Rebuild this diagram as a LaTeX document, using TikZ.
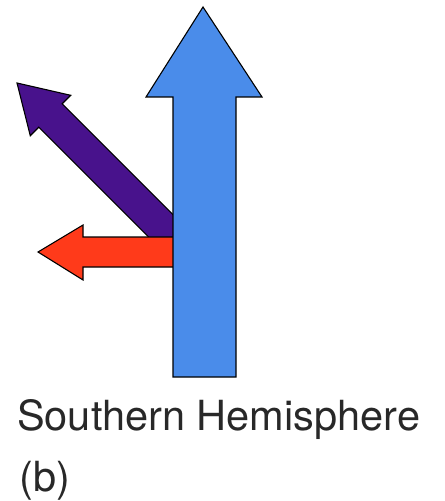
\documentclass[tikz,border=0pt]{standalone}
\usepackage{fontspec}
\setmainfont{TeX Gyre Heros}
\definecolor{bluearrow}{RGB}{74,140,234}
\definecolor{purplearrow}{RGB}{72,18,140}
\definecolor{redarrow}{RGB}{255,58,26}
\definecolor{labeltext}{RGB}{40,40,40}
\begin{document}
\begin{tikzpicture}[x=1bp,y=-1bp,
  arrowshape/.style={draw=black,line width=1.1bp,line join=miter},
  labelstyle/.style={anchor=base west,inner sep=0pt,text=labeltext,
    font=\fontsize{41.5bp}{50bp}\selectfont}]
\useasboundingbox (0,0) rectangle (445,501);
% purple arrow (drawn first, partly hidden)
\filldraw[arrowshape,fill=purplearrow]
  (17,83) -- (70.7,95.3) -- (62.2,103.8) -- (191.7,233.3)
  -- (168.3,256.7) -- (38.8,127.2) -- (30.3,135.7) -- cycle;
% red arrow
\filldraw[arrowshape,fill=redarrow]
  (38,252) -- (83,225) -- (83,237) -- (180,237)
  -- (180,267) -- (83,267) -- (83,280) -- cycle;
% blue arrow
\filldraw[arrowshape,fill=bluearrow]
  (203,7) -- (262,97) -- (236,97) -- (236,377)
  -- (173,377) -- (173,97) -- (146,97) -- cycle;
\node[labelstyle] (hemi) at (17,430) {Southern Hemisphere};
\node[labelstyle] (part) at (19,491) {(b)};
\end{tikzpicture}
\end{document}
